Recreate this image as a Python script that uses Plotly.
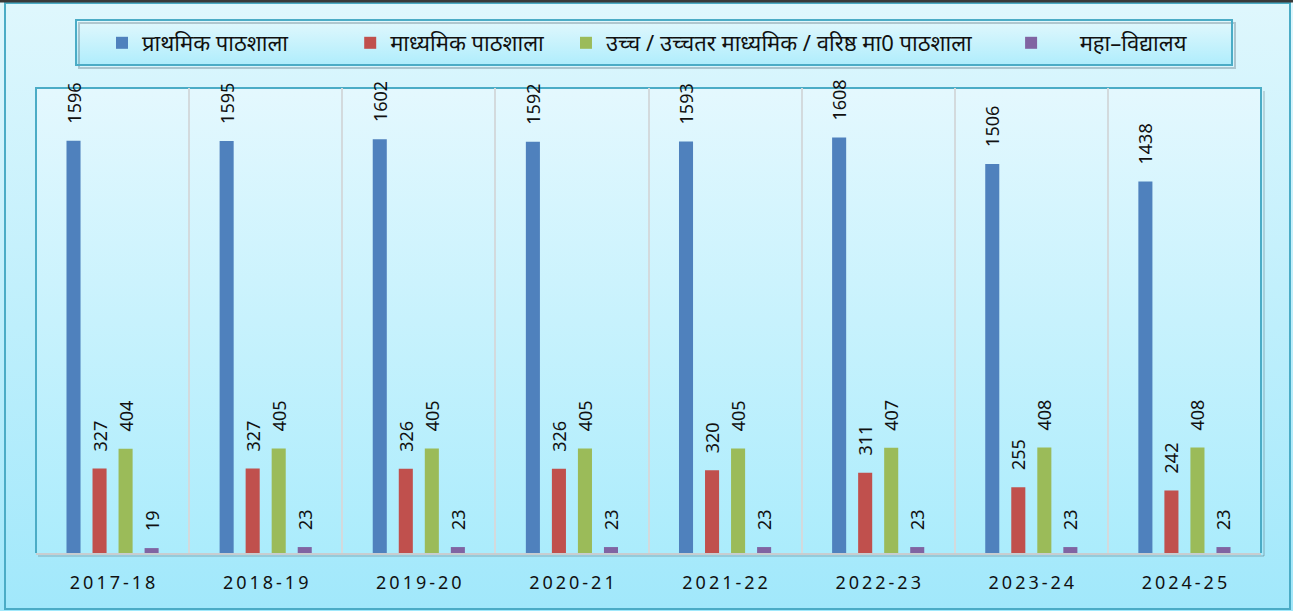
import base64
import plotly.graph_objects as go

years = ["2017-18", "2018-19", "2019-20", "2020-21", "2021-22", "2022-23", "2023-24", "2024-25"]
primary = [1596, 1595, 1602, 1592, 1593, 1608, 1506, 1438]
secondary = [327, 327, 326, 326, 320, 311, 255, 242]
higher_sec = [404, 405, 405, 405, 405, 407, 408, 408]
college = [19, 23, 23, 23, 23, 23, 23, 23]

series_names = ["प्राथमिक पाठशाला", "माध्यमिक पाठशाला",
                "उच्च / उच्चतर माध्यमिक / वरिष्ठ मा0 पाठशाला", "महा–विद्यालय"]
colors = ["#4F81BD", "#C0504D", "#9BBB59", "#8064A2"]

NB = "\u00a0"
FONT = "Noto Sans, Open Sans, sans-serif"


def grad_uri(top, bottom):
    svg = ('<svg xmlns="http://www.w3.org/2000/svg" width="100" height="100" preserveAspectRatio="none">'
           '<defs><linearGradient id="g" x1="0" y1="0" x2="0" y2="1">'
           f'<stop offset="0" stop-color="{top}"/><stop offset="1" stop-color="{bottom}"/>'
           '</linearGradient></defs><rect width="100" height="100" fill="url(#g)"/></svg>')
    return "data:image/svg+xml;base64," + base64.b64encode(svg.encode()).decode()


fig = go.Figure()
legend_names = [series_names[0] + NB * 10, series_names[1] + NB * 3,
                series_names[2] + NB * 6, NB * 5 + series_names[3]]
for vals, name, col in zip([primary, secondary, higher_sec, college], legend_names, colors):
    fig.add_trace(go.Bar(
        x=years, y=vals, name=name, marker=dict(color=col, line=dict(width=0)),
        text=vals, texttemplate=NB * 3 + "%{y}", textposition="outside", textangle=-90,
        constraintext="none", cliponaxis=False,
        textfont=dict(family=FONT, size=18, color="#111111"),
    ))

# pixel helpers: plot area px 36..1261, py 88..553
L, R, T, B = 36, 1261, 88, 553
W, H = R - L, B - T


def px(x):
    return (x - L) / W


def py(y):
    return (B - y) / H


ticktext = ["\u2009".join(list(y)) for y in years]

fig.update_layout(
    width=1293, height=611,
    margin=dict(l=L, r=1293 - R, t=T, b=611 - B, autoexpand=False),
    paper_bgcolor="#c4f0fc", plot_bgcolor="rgba(0,0,0,0)",
    barmode="group", bargap=0.32, bargroupgap=0.46,
    font=dict(family=FONT, color="#111111"),
    showlegend=True,
    legend=dict(orientation="h", x=px(102), xanchor="left", y=py(43), yanchor="middle",
                bgcolor="rgba(0,0,0,0)", borderwidth=0,
                font=dict(family=FONT, size=22, color="#111111"),
                itemwidth=30, traceorder="normal"),
    xaxis=dict(type="category", tickson="boundaries", showgrid=True, gridcolor="#d3dadd",
               gridwidth=2, ticks="", showline=True, linecolor="#c8cdd0", linewidth=2,
               tickvals=years, ticktext=ticktext, ticklabelstandoff=12,
               tickfont=dict(family=FONT, size=18, color="#111111")),
    yaxis=dict(range=[0, 1800], showgrid=False, showticklabels=False, zeroline=False, ticks=""),
    images=[
        dict(source=grad_uri("#dff7fd", "#a1e8fb"), xref="paper", yref="paper",
             x=px(0), y=py(0), sizex=px(1293) - px(0), sizey=py(0) - py(611),
             sizing="stretch", layer="below", xanchor="left", yanchor="top"),
        dict(source=grad_uri("#e4f8fe", "#abecfc"), xref="paper", yref="paper",
             x=0, y=1, sizex=1, sizey=1, sizing="stretch", layer="below",
             xanchor="left", yanchor="top"),
        dict(source=grad_uri("#e2f8fd", "#afedfc"), xref="paper", yref="paper",
             x=px(76), y=py(20), sizex=px(1232) - px(76), sizey=py(20) - py(65),
             sizing="stretch", layer="below", xanchor="left", yanchor="top"),
    ],
    shapes=[
        # outer frame
        dict(type="rect", xref="paper", yref="paper", x0=px(5), x1=px(1290), y0=py(609), y1=py(3),
             line=dict(color="#4bacc6", width=2), fillcolor="rgba(0,0,0,0)", layer="below"),
        dict(type="line", xref="paper", yref="paper", x0=px(0), x1=px(1293), y0=py(1), y1=py(1),
             line=dict(color="#3a3a3a", width=3)),
        # legend box shadow + border
        dict(type="rect", xref="paper", yref="paper", x0=px(79), x1=px(1235), y0=py(68), y1=py(23),
             line=dict(color="rgba(90,110,120,0.35)", width=2), fillcolor="rgba(0,0,0,0)",
             layer="below"),
        dict(type="rect", xref="paper", yref="paper", x0=px(76), x1=px(1232), y0=py(65), y1=py(20),
             line=dict(color="#4bacc6", width=2), fillcolor="rgba(0,0,0,0)", layer="below"),
        # plot area shadow + border
        dict(type="line", xref="paper", yref="paper", x0=px(38), x1=px(1264), y0=py(556), y1=py(556),
             line=dict(color="rgba(90,110,120,0.25)", width=2), layer="below"),
        dict(type="line", xref="paper", yref="paper", x0=px(1264), x1=px(1264), y0=py(556), y1=py(91),
             line=dict(color="rgba(90,110,120,0.25)", width=2), layer="below"),
        dict(type="path", xref="paper", yref="paper",
             path="M 0,0 L 0,1 L 1,1 L 1,0",
             line=dict(color="#4bacc6", width=2), layer="below"),
    ],
)

fig.write_html("out.html", config={"displayModeBar": False},
               post_script="document.body.style.margin='0';document.body.style.overflow='hidden';")
